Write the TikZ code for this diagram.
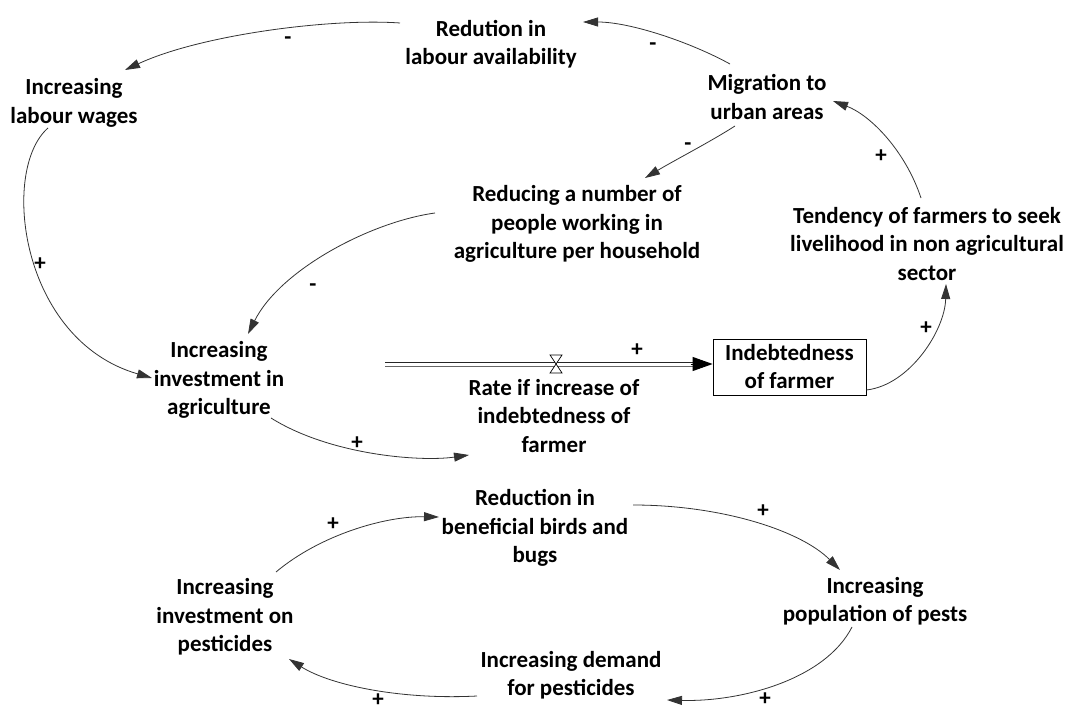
\documentclass[tikz,border=0pt]{standalone}
\usepackage{fontspec}
\setmainfont{Carlito}
\usetikzlibrary{arrows.meta}
\begin{document}
\begin{tikzpicture}[x=1pt,y=-1pt,
  lbl/.style={align=center,inner sep=0pt,font=\fontsize{23}{28.5}\selectfont\bfseries},
  sgn/.style={inner sep=0pt,font=\fontsize{23}{28}\selectfont\bfseries},
  arr/.style={draw=black!80,line width=0.8pt,-{Triangle[length=15pt,width=9pt]}},
  pipeline/.style={draw=black!85,line width=0.9pt},
  pipetip/.style={draw=black,line width=0.9pt,-{Triangle[length=20pt,width=14pt]}},
  stockbox/.style={draw,line width=0.8pt,minimum width=153pt,minimum height=56pt,align=center,inner sep=0pt,font=\fontsize{23}{28}\selectfont\bfseries}]
\useasboundingbox (0,0) rectangle (1065,711);
% nodes
\node[lbl] (redlab) at (491,44) {Redution in\\labour availability};
\node[lbl] (wages) at (74,103) {Increasing\\labour wages};
\node[lbl] (migr) at (767,97) {Migration to\\urban areas};
\node[lbl] (reduc) at (577,224) {Reducing a number of\\people working in\\agriculture per household};
\node[lbl] (tend) at (927,244) {Tendency of farmers to seek\\livelihood in non agricultural\\sector};
\node[lbl] (invest) at (219,380) {Increasing\\investment in\\agriculture};
\node[stockbox] (box) at (789.5,367) {Indebtedness\\of farmer};
\node[lbl] (rate) at (554,416) {Rate if increase of\\indebtedness of\\farmer};
\node[lbl] (birds) at (535,528) {Reduction in\\beneficial birds and\\bugs};
\node[lbl] (pests) at (875,601) {Increasing\\population of pests};
\node[lbl] (demand) at (571,675) {Increasing demand\\for pesticides};
\node[lbl] (pestinv) at (225,617) {Increasing\\investment on\\pesticides};
% flow
\coordinate (src) at (385,364);
\coordinate (valve) at (556,364);
\draw[pipeline] ([shift={(0,-2)}]src) -- ([shift={(-18,-5)}]box.west);
\draw[pipeline,draw=black!60] ([shift={(0,2)}]src) -- ([shift={(-18,-1)}]box.west);
\draw[pipetip] ([shift={(-22,-3)}]box.west) -- ([shift={(0,-3)}]box.west);
\draw[fill=white,line width=0.7pt] ([shift={(-6,-9)}]valve) -- ++(12,0) -- ++(-12,18) -- ++(12,0) -- cycle;
% links
\draw[arr] ([shift={(-91,-21)}]redlab.center) .. controls (330,18) and (200,35) .. ([shift={(51,-33)}]wages.center);
\draw[arr] ([shift={(-37,-33)}]migr.center) .. controls (690,42) and (630,22) .. ([shift={(92,-22)}]redlab.center);
\draw[arr] ([shift={(-32,29)}]migr.center) .. controls (710,142) and (675,160) .. ([shift={(68,-46)}]reduc.center);
\draw[arr] ([shift={(-6,-46)}]tend.center) .. controls (905,150) and (870,115) .. ([shift={(66,4)}]migr.center);
\draw[arr] ([shift={(0,23)}]box.east) .. controls (910,385) and (945,330) .. ([shift={(19,40)}]tend.center);
\draw[arr] ([shift={(-26,25)}]wages.center) .. controls (0,170) and (20,340) .. ([shift={(-67,-2)}]invest.center);
\draw[arr] ([shift={(-142,-11)}]reduc.center) .. controls (370,222) and (280,270) .. ([shift={(29,-46)}]invest.center);
\draw[arr] ([shift={(52,38)}]invest.center) .. controls (330,455) and (420,462) .. ([shift={(-85,39)}]rate.center);
\draw[arr] ([shift={(51,-45)}]pestinv.center) .. controls (320,535) and (385,516) .. ([shift={(-96,-11)}]birds.center);
\draw[arr] ([shift={(98,-23)}]birds.center) .. controls (720,505) and (800,530) .. ([shift={(-35,-31)}]pests.center);
\draw[arr] ([shift={(-23,26)}]pests.center) .. controls (825,680) and (740,702) .. ([shift={(96,25)}]demand.center);
\draw[arr] ([shift={(-94,21)}]demand.center) .. controls (400,700) and (330,685) .. ([shift={(64,42)}]pestinv.center);
% signs
\node[sgn] (s1) at (288,41) {-};
\node[sgn] (s2) at (653,47) {-};
\node[sgn] (s3) at (688,147) {-};
\node[sgn] (s4) at (881,156) {+};
\node[sgn] (s5) at (926,328) {+};
\node[sgn] (s6) at (40,264) {+};
\node[sgn] (s7) at (313,288) {-};
\node[sgn] (s8) at (357,443) {+};
\node[sgn] (s9) at (637,350) {+};
\node[sgn] (s10) at (333,524) {+};
\node[sgn] (s11) at (763,511) {+};
\node[sgn] (s12) at (765,699) {+};
\node[sgn] (s13) at (378,700) {+};
\end{tikzpicture}
\end{document}
